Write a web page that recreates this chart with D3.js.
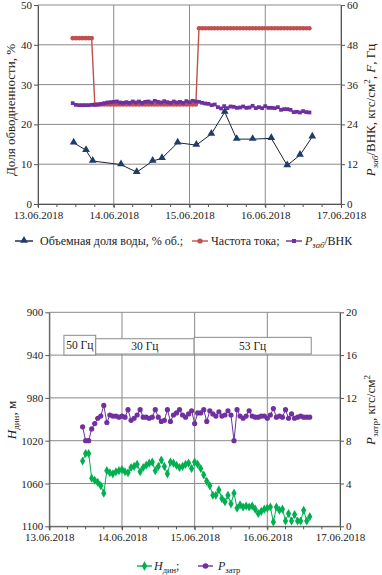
<!DOCTYPE html>
<html><head><meta charset="utf-8">
<script src="https://cdn.jsdelivr.net/npm/d3@7"></script>
<style>
body{margin:0;background:#fff}
svg{display:block}
svg text{font-family:"Liberation Serif","Times New Roman","DejaVu Serif",serif;fill:#222}
</style>
</head><body><svg id="c" width="382" height="575"></svg>
<script>
// ---------------- DATA ----------------
// Top chart: water cut (%), left axis
const waterTimes = ["2018-06-13T11:18","2018-06-13T15:13","2018-06-13T17:20","2018-06-14T02:18","2018-06-14T07:16",
  "2018-06-14T12:20","2018-06-14T15:17","2018-06-14T20:15","2018-06-15T02:10","2018-06-15T06:55","2018-06-15T11:10",
  "2018-06-15T14:57","2018-06-15T20:01","2018-06-16T01:55","2018-06-16T06:58","2018-06-16T11:01","2018-06-16T14:54"];
const waterValues = [15.4,13.5,10.8,9.9,8.0,10.8,11.5,15.4,14.8,17.6,23.1,16.3,16.3,16.5,9.7,12.3,16.9];

// Hourly samples 13.06.2018 11:00 ... 16.06.2018 14:00
const hourlyStart = "2018-06-13T11:00";
const hourlyEnd = "2018-06-16T14:00";
// Current frequency, Hz (right axis)
const freqValues = [50,50,50,50,50,50,50,
  30,30,30,30,30,30,
  30,30,30,30,30,30,30,30,30,30,30,30,30,30,30,30,30,30,30,30,30,30,30,30,
  30,30,30,
  53,53,53,53,53,53,53,53,53,53,53,53,53,53,53,53,53,53,53,53,53,
  53,53,53,53,53,53,53,53,53,53,53,53,53,53,53];
// P заб/ВНК, kgf/cm2 (right axis)
const pzabValues = [30.4,29.9,29.8,29.8,29.8,29.8,29.9,
  29.9,30.0,30.2,30.4,30.6,30.7,
  30.8,30.9,30.6,30.5,30.7,30.5,30.9,30.6,30.9,30.5,30.8,30.9,30.6,31.1,30.8,30.6,31.0,30.7,30.5,30.9,30.6,30.8,30.5,31.0,
  30.7,31.1,30.9,30.8,30.5,30.3,30.2,29.8,30.0,29.2,28.8,29.5,28.9,29.4,29.3,29.0,29.1,29.4,29.0,29.1,29.6,28.9,29.2,28.9,
  29.5,29.0,29.0,28.9,29.2,28.4,28.6,28.6,28.4,27.7,27.8,27.6,28.0,27.7,27.6];

// Bottom chart: dynamic level H дин, m (left axis, inverted)
const hdynValues = [1039,1032,1032,1055,1057,1059,1062,1069,1048,1050,
  1051,1049,1048,1047,1049,1050,1045,1044,1042,1049,
  1045,1043,1041,1040,1048,1044,1038,1044,1051,1040,
  1041,1043,1045,1044,1042,1041,1046,1040,1042,1046,
  1052,1058,1062,1071,1071,1066,1074,1077,1071,1079,
  1069,1083,1080,1082,1081,1082,1081,1084,1088,1086,
  1084,1083,1082,1096,1082,1085,1084,1095,1088,1095,
  1089,1095,1095,1085,1095,1091];
// P затр, kgf/cm2 (right axis)
const pzatrValues = [9.3,8.0,8.0,9.1,9.6,10.1,10.3,11.3,9.7,10.4,
  10.3,10.3,10.2,10.3,10.2,10.9,9.9,10.1,10.4,10.9,
  10.2,10.2,10.1,10.2,10.9,10.2,9.8,9.9,10.9,9.8,
  10.4,10.6,10.9,10.4,10.2,10.5,10.8,9.6,10.6,10.6,
  10.9,9.8,10.8,10.5,10.3,10.7,10.3,10.4,10.8,10.4,
  8.0,10.9,10.3,10.1,10.3,10.8,10.3,10.2,10.2,10.3,
  10.3,10.1,10.4,11.0,10.2,10.3,10.2,10.9,10.1,10.5,
  10.1,10.2,10.3,10.2,10.2,10.2];

// Frequency regime boxes (bottom chart), in axis units (date, H дин)
const regimeLabels = ["50 Гц","30 Гц","53 Гц"];
const regimeStart = ["2018-06-13T04:50","2018-06-13T15:20","2018-06-14T23:50"];
const regimeEnd = ["2018-06-13T15:20","2018-06-14T23:50","2018-06-16T14:30"];
const regimeTop = [921.5, 924.7, 923.4];
const regimeBottom = [940, 939, 939];

const dateDomain = ["2018-06-13T00:00","2018-06-17T00:00"];
const topLeftTicks = [0,10,20,30,40,50];
const topRightTicks = [0,12,24,36,48,60];
const botLeftTicks = [900,940,980,1020,1060,1100];
const botRightTicks = [0,4,8,12,16,20];

// ---------------- DRAW ----------------
const FONT = '"Liberation Serif","Times New Roman","DejaVu Serif",serif';
const P = d3.timeParse("%Y-%m-%dT%H:%M");
const hours = d3.timeHour.range(P(hourlyStart), d3.timeHour.offset(P(hourlyEnd),1));
const svg = d3.select("#c");
svg.append("rect").attr("width",382).attr("height",575).attr("fill","#fff");
const fmt = d3.timeFormat("%d.%m.%Y");
const GRID = "#8a8a8a", AX = "#555";

function styleAxis(g){
  g.attr("font-family",FONT).attr("font-size",11);
  g.selectAll("path").attr("stroke",AX);
  g.selectAll("line").attr("stroke",AX);
  g.selectAll("text").attr("font-family",FONT).attr("font-size",11).attr("fill","#222");
}

function panel(o){
  const x = d3.scaleTime().domain(dateDomain.map(P)).range([o.x0,o.x1]);
  const yl = d3.scaleLinear().domain(o.ldom).range(o.lrange);
  const yr = d3.scaleLinear().domain(o.rdom).range([o.yb,o.yt]);
  const g = svg.append("g");
  g.append("g").selectAll("line").data(o.lticks).join("line")
    .attr("x1",o.x0).attr("x2",o.x1).attr("y1",d=>yl(d)).attr("y2",d=>yl(d)).attr("stroke",GRID);
  g.append("g").selectAll("line").data(x.ticks(d3.timeDay.every(1))).join("line")
    .attr("x1",d=>x(d)).attr("x2",d=>x(d)).attr("y1",o.yt).attr("y2",o.yb).attr("stroke",GRID);
  g.append("g").selectAll("line").data(d3.timeHour.every(6).range(...x.domain())).join("line")
    .attr("x1",d=>x(d)).attr("x2",d=>x(d)).attr("y1",o.yb).attr("y2",o.yb+3).attr("stroke",AX);
  g.append("g").attr("transform",`translate(0,${o.yb})`)
    .call(d3.axisBottom(x).ticks(d3.timeDay.every(1)).tickFormat(fmt).tickSize(4).tickPadding(3)).call(styleAxis);
  g.append("g").attr("transform",`translate(${o.x0},0)`)
    .call(d3.axisLeft(yl).tickValues(o.lticks).tickFormat(d3.format("d")).tickSize(4).tickPadding(2).tickSizeOuter(0)).call(styleAxis);
  g.append("g").attr("transform",`translate(${o.x1},0)`)
    .call(d3.axisRight(yr).tickValues(o.rticks).tickFormat(d3.format("d")).tickSize(4).tickPadding(2).tickSizeOuter(0)).call(styleAxis);
  return {x,yl,yr,g};
}

// ===== TOP =====
const T = panel({x0:38,x1:341,yt:5,yb:204,ldom:[0,50],lrange:[204,5],rdom:[0,60],lticks:topLeftTicks,rticks:topRightTicks});
const wt = waterTimes.map(P);
const BLUE_L="#1c2233", BLUE_M="#1f3d68", RED="#c0504d", PURP="#7030a0", GREEN="#00b050";
T.g.append("path").datum(waterValues).attr("fill","none").attr("stroke",BLUE_L).attr("stroke-width",1)
  .attr("d",d3.line().x((d,i)=>T.x(wt[i])).y(d=>T.yl(d)));
T.g.append("g").selectAll("path").data(waterValues).join("path")
  .attr("d",d3.symbol(d3.symbolTriangle,26)).attr("fill",BLUE_M)
  .attr("transform",(d,i)=>`translate(${T.x(wt[i])},${T.yl(d)-0.5})`);
T.g.append("path").datum(freqValues).attr("fill","none").attr("stroke",RED).attr("stroke-width",1.4)
  .attr("d",d3.line().x((d,i)=>T.x(hours[i])).y(d=>T.yr(d)));
T.g.append("g").selectAll("circle").data(freqValues).join("circle")
  .attr("cx",(d,i)=>T.x(hours[i])).attr("cy",d=>T.yr(d)).attr("r",2.3).attr("fill",RED);
T.g.append("path").datum(pzabValues).attr("fill","none").attr("stroke",PURP).attr("stroke-width",1.2)
  .attr("d",d3.line().x((d,i)=>T.x(hours[i])).y(d=>T.yr(d)));
T.g.append("g").selectAll("rect").data(pzabValues).join("rect")
  .attr("x",(d,i)=>T.x(hours[i])-1.9).attr("y",d=>T.yr(d)-1.9).attr("width",3.8).attr("height",3.8).attr("fill",PURP);

svg.append("text").attr("transform","translate(15,110) rotate(-90)").attr("text-anchor","middle")
  .attr("font-size",13).text("Доля обводненности, %");
{
  const t = svg.append("text").attr("transform","translate(375,110) rotate(-90)").attr("text-anchor","middle").attr("font-size",13);
  t.append("tspan").attr("font-style","italic").text("P");
  t.append("tspan").attr("font-style","italic").attr("font-size",9).attr("dy",3).text("заб");
  t.append("tspan").attr("dy",-3).text("/ВНК, кгс/см");
  t.append("tspan").attr("font-size",9).attr("dy",-5).text("2");
  t.append("tspan").attr("dy",5).text(", ");
  t.append("tspan").attr("font-style","italic").text("F");
  t.append("tspan").text(", Гц");
}

function legItem(x,y,color,kind,len){
  svg.append("line").attr("x1",x).attr("x2",x+len).attr("y1",y).attr("y2",y).attr("stroke",kind==="tri"?BLUE_L:color).attr("stroke-width",1.4);
  const cx = x+len/2;
  if(kind==="tri") svg.append("path").attr("d",d3.symbol(d3.symbolTriangle,26)).attr("fill",BLUE_M).attr("transform",`translate(${cx},${y-0.5})`);
  if(kind==="circ") svg.append("circle").attr("cx",cx).attr("cy",y).attr("r",2.6).attr("fill",color);
  if(kind==="sq") svg.append("rect").attr("x",cx-2).attr("y",y-2).attr("width",4).attr("height",4).attr("fill",color);
  if(kind==="dia") svg.append("path").attr("d",d3.symbol(d3.symbolDiamond,26)).attr("fill",color).attr("transform",`translate(${cx},${y})`);
  if(kind==="dot") svg.append("circle").attr("cx",cx).attr("cy",y).attr("r",2.8).attr("fill",color);
}
legItem(15,241,BLUE_M,"tri",18);
svg.append("text").attr("x",40).attr("y",245).attr("font-size",12).text("Объемная доля воды, % об.;");
legItem(192,241,RED,"circ",16);
svg.append("text").attr("x",211).attr("y",245).attr("font-size",12).text("Частота тока;");
legItem(286,241,PURP,"sq",16);
{
  const t = svg.append("text").attr("x",305).attr("y",245).attr("font-size",12);
  t.append("tspan").attr("font-style","italic").text("P");
  t.append("tspan").attr("font-style","italic").attr("font-size",8.5).attr("dy",2.5).text("заб");
  t.append("tspan").attr("dy",-2.5).text("/ВНК");
}

// ===== BOTTOM =====
const B = panel({x0:49.3,x1:340,yt:312.3,yb:526.3,ldom:[900,1100],lrange:[312.3,526.3],rdom:[0,20],lticks:botLeftTicks,rticks:botRightTicks});
const rb = B.g.append("g");
regimeLabels.forEach((lab,i)=>{
  const xa = B.x(P(regimeStart[i])), xb = B.x(P(regimeEnd[i]));
  const ya = B.yl(regimeTop[i]), yb = B.yl(regimeBottom[i]);
  rb.append("rect").attr("x",xa).attr("y",ya).attr("width",xb-xa).attr("height",yb-ya)
    .attr("fill","#fff").attr("stroke","#8a8a8a").attr("stroke-width",1);
  rb.append("text").attr("x",(xa+xb)/2).attr("y",(ya+yb)/2+4).attr("text-anchor","middle").attr("font-size",11.5).text(lab);
});
B.g.append("path").datum(hdynValues).attr("fill","none").attr("stroke",GREEN).attr("stroke-width",1)
  .attr("d",d3.line().x((d,i)=>B.x(hours[i])).y(d=>B.yl(d)));
B.g.append("g").selectAll("path").data(hdynValues).join("path")
  .attr("d",d3.symbol(d3.symbolDiamond,24)).attr("fill",GREEN)
  .attr("transform",(d,i)=>`translate(${B.x(hours[i])},${B.yl(d)})`);
B.g.append("path").datum(pzatrValues).attr("fill","none").attr("stroke",PURP).attr("stroke-width",1)
  .attr("d",d3.line().x((d,i)=>B.x(hours[i])).y(d=>B.yr(d)));
B.g.append("g").selectAll("circle").data(pzatrValues).join("circle")
  .attr("cx",(d,i)=>B.x(hours[i])).attr("cy",d=>B.yr(d)).attr("r",2.6).attr("fill",PURP);

{
  const t = svg.append("text").attr("transform","translate(16,420) rotate(-90)").attr("text-anchor","middle").attr("font-size",13);
  t.append("tspan").attr("font-style","italic").text("H");
  t.append("tspan").attr("font-size",9).attr("dy",3).text("дин");
  t.append("tspan").attr("dy",-3).text(", м");
}
{
  const t = svg.append("text").attr("transform","translate(375,410) rotate(-90)").attr("text-anchor","middle").attr("font-size",13);
  t.append("tspan").attr("font-style","italic").text("P");
  t.append("tspan").attr("font-size",9).attr("dy",3).text("затр");
  t.append("tspan").attr("dy",-3).text(", кгс/см");
  t.append("tspan").attr("font-size",9).attr("dy",-5).text("2");
}
legItem(137,566,GREEN,"dia",15);
{
  const t = svg.append("text").attr("x",154).attr("y",570).attr("font-size",12);
  t.append("tspan").attr("font-style","italic").text("H");
  t.append("tspan").attr("font-size",8.5).attr("dy",2.5).text("дин");
  t.append("tspan").attr("dy",-2.5).text(";");
}
legItem(198,566,PURP,"dot",15);
{
  const t = svg.append("text").attr("x",218).attr("y",570).attr("font-size",12);
  t.append("tspan").attr("font-style","italic").text("P");
  t.append("tspan").attr("font-size",8.5).attr("dy",2.5).text("затр");
}
</script></body></html>
